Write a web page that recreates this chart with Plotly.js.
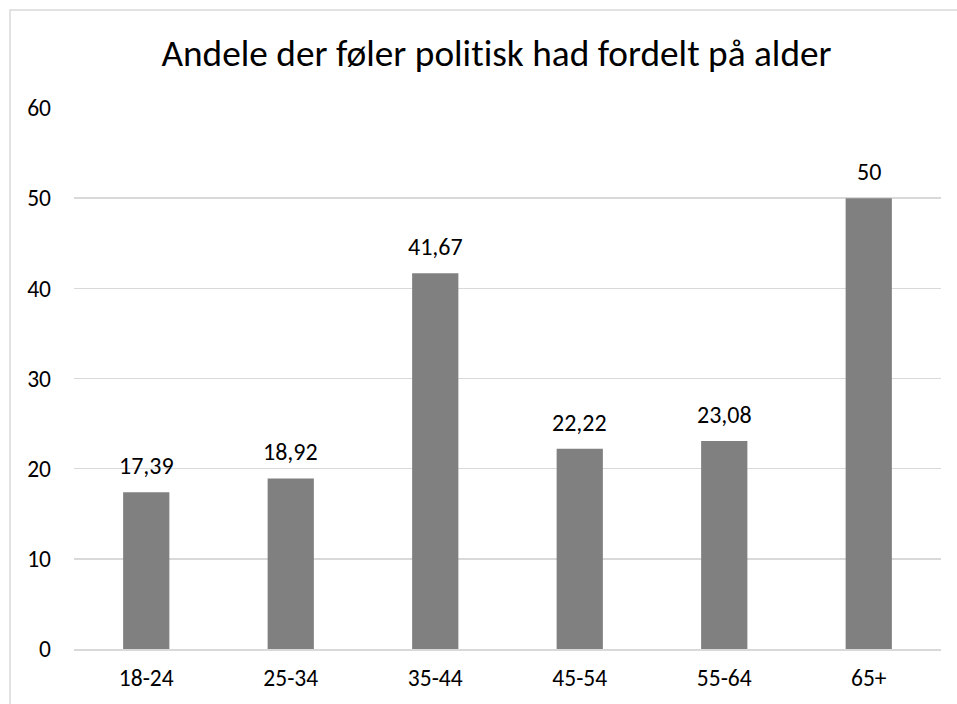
<!DOCTYPE html>
<html>
<head>
<meta charset="utf-8">
<script src="https://cdn.plot.ly/plotly-3.0.1.min.js"></script>
<style>
html,body{margin:0;padding:0;background:#fff;overflow:hidden;}
#chart{width:957px;height:704px;}
#chart text{font-variant-ligatures:none;font-feature-settings:"liga" 0, "clig" 0;}
</style>
</head>
<body>
<div id="chart"></div>
<script>
const categories = ["18-24", "25-34", "35-44", "45-54", "55-64", "65+"];
const values = [17.39, 18.92, 41.67, 22.22, 23.08, 50];
const labels = ["17,39", "18,92", "41,67", "22,22", "23,08", "50"];
const yTicks = [0, 10, 20, 30, 40, 50, 60];

const font = "Calibri, Carlito, 'Open Sans', sans-serif";

const trace = {
  type: "bar",
  x: categories,
  y: values,
  marker: {color: "#808080"},
  hoverinfo: "none"
};

const annotations = categories.map((c, i) => ({
  x: c,
  y: values[i],
  xref: "x", yref: "y",
  text: labels[i],
  showarrow: false,
  xanchor: "center",
  yanchor: "bottom",
  yshift: 10,
  font: {family: font, size: 24, color: "#000"}
}));

const layout = {
  width: 957,
  height: 704,
  margin: {l: 74, r: 16, t: 108, b: 55},
  paper_bgcolor: "#fff",
  plot_bgcolor: "#fff",
  bargap: 0.68,
  showlegend: false,
  title: {
    text: "Andele der føler politisk had fordelt på alder",
    font: {family: font, size: 37.3, color: "#000"},
    xref: "container",
    x: 496.5 / 957, xanchor: "center",
    y: 1 - 53/704, yanchor: "middle"
  },
  xaxis: {
    type: "category",
    showgrid: false,
    showline: true,
    linecolor: "#d9d9d9",
    linewidth: 1.5,
    ticks: "",
    ticklabelstandoff: 7,
    tickfont: {family: font, size: 23.5, color: "#000"},
    fixedrange: true
  },
  yaxis: {
    range: [0, 60],
    tickvals: yTicks,
    ticktext: yTicks.map(String),
    showgrid: true,
    gridcolor: "#d9d9d9",
    gridwidth: 1.5,
    zeroline: false,
    showline: false,
    ticks: "",
    ticklabelstandoff: 22,
    tickfont: {family: font, size: 23.5, color: "#000"},
    fixedrange: true
  },
  annotations: annotations,
  shapes: [{
    type: "rect",
    xref: "paper", yref: "paper",
    x0: (10 - 74) / 867, x1: 1.2,
    y0: -0.3, y1: 1 + (108 - 10) / 541,
    line: {color: "#d9d9d9", width: 1.5},
    fillcolor: "rgba(0,0,0,0)",
    layer: "below"
  }]
};

Plotly.newPlot("chart", [trace], layout, {displayModeBar: false, staticPlot: true});
</script>
</body>
</html>
